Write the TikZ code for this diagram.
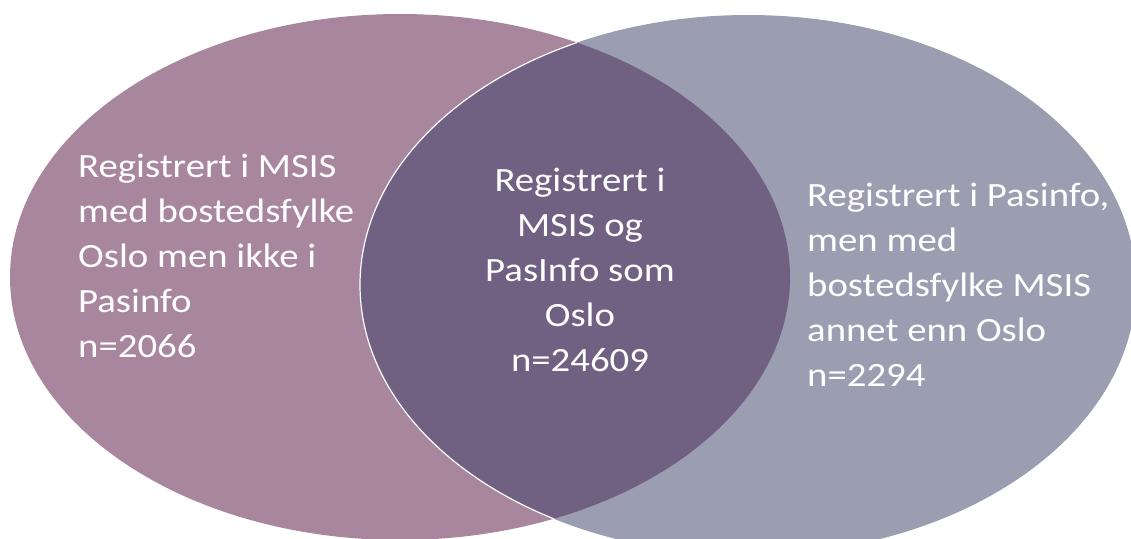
\documentclass[tikz,border=0pt]{standalone}
\usepackage{fontspec}
\setmainfont[FakeStretch=1.14]{Carlito}
\definecolor{leftc}{RGB}{168,135,158}
\definecolor{rightc}{RGB}{155,157,176}
\definecolor{midc}{RGB}{112,97,130}
\tikzset{
  vlabel/.style={text=white, inner sep=0pt, font=\fontsize{34}{45}\selectfont},
}
\begin{document}
\begin{tikzpicture}[x=1pt,y=-1pt]
\useasboundingbox (0,0) rectangle (1131,538);
\fill[leftc] (400,277) ellipse [x radius=390pt, y radius=263pt];
\fill[rightc] (748,285) ellipse [x radius=388pt, y radius=270pt];
\begin{scope}
  \clip (400,277) ellipse [x radius=390pt, y radius=263pt];
  \fill[midc] (748,285) ellipse [x radius=388pt, y radius=270pt];
  \draw[white, line width=1.2pt] (748,285) ellipse [x radius=388pt, y radius=270pt];
\end{scope}
\node[vlabel, anchor=north west, align=left] (lt) at (78,154)
  {Registrert i MSIS\\med bostedsfylke\\Oslo men ikke i\\Pasinfo\\n=2066};
\node[vlabel, anchor=north, align=center] (mt) at (580,168)
  {Registrert i\\MSIS og\\PasInfo som\\Oslo\\n=24609};
\node[vlabel, anchor=north west, align=left] (rt) at (807,183)
  {Registrert i Pasinfo,\\men med\\bostedsfylke MSIS\\annet enn Oslo\\n=2294};
\end{tikzpicture}
\end{document}
